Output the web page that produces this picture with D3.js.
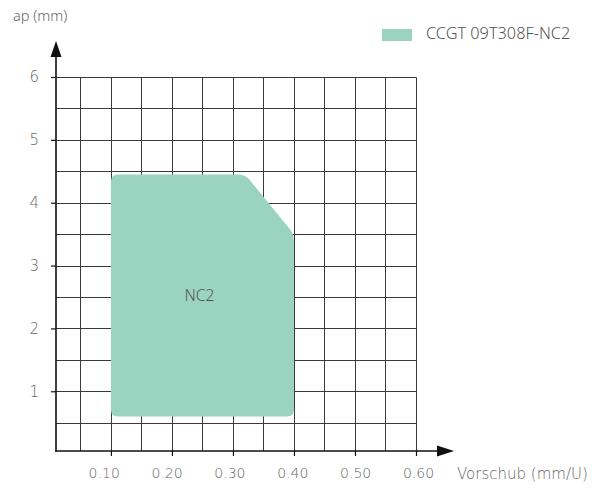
<!DOCTYPE html>
<html>
<head>
<meta charset="utf-8">
<script src="https://cdn.jsdelivr.net/npm/d3@7"></script>
<style>
  html, body { margin: 0; padding: 0; background: #fff; }
  svg { display: block; }
</style>
</head>
<body>
<svg id="chart" width="605" height="488"></svg>
<script>
// ---- data ----
const seriesName = "CCGT 09T308F-NC2";
const areaLabel = "NC2";
const areaFeed = [0.10, 0.10, 0.32, 0.40, 0.40];   // Vorschub (mm/U)
const areaDepth = [0.60, 4.45, 4.45, 3.50, 0.60];  // ap (mm)
const labelPos = [0.245, 2.5];
const xTicks = [0.10, 0.20, 0.30, 0.40, 0.50, 0.60];
const yTicks = [1, 2, 3, 4, 5, 6];
const xGrid = [0.05, 0.10, 0.15, 0.20, 0.25, 0.30, 0.35, 0.40, 0.45, 0.50, 0.55, 0.60];
const yGrid = [0.5, 1, 1.5, 2, 2.5, 3, 3.5, 4, 4.5, 5, 5.5, 6];
const xTitle = "Vorschub (mm/U)";
const yTitle = "ap (mm)";

const fillColor = "#9ad4c0";
const gridColor = "#3a3a3a";
const axisColor = "#111";
const textColor = "#666";

const svg = d3.select("#chart");
const x = d3.scaleLinear().domain([0.01, 0.6]).range([56, 416]);
const y = d3.scaleLinear().domain([0.05, 6]).range([451, 77]);
// tick labels in the reference sit on a slightly wider spacing than the grid
const xLabel = d3.scaleLinear().domain([0.1, 0.6]).range([103.7, 418]);

// grid
const grid = svg.append("g");
grid.selectAll("line.v").data(xGrid).join("line")
  .attr("x1", d => Math.round(x(d)) + 0.5).attr("x2", d => Math.round(x(d)) + 0.5)
  .attr("y1", y(0.05)).attr("y2", Math.round(y(6)) + 0.5)
  .attr("stroke", gridColor).attr("stroke-width", 1);
grid.selectAll("line.h").data(yGrid).join("line")
  .attr("y1", d => Math.round(y(d)) + 0.5).attr("y2", d => Math.round(y(d)) + 0.5)
  .attr("x1", x(0.01)).attr("x2", Math.round(x(0.6)) + 0.5)
  .attr("stroke", gridColor).attr("stroke-width", 1);

// rounded polygon
function roundedPath(pts, r) {
  const n = pts.length;
  let d = "";
  for (let i = 0; i < n; i++) {
    const p0 = pts[(i - 1 + n) % n], p1 = pts[i], p2 = pts[(i + 1) % n];
    const v1 = [p0[0] - p1[0], p0[1] - p1[1]], v2 = [p2[0] - p1[0], p2[1] - p1[1]];
    const l1 = Math.hypot(...v1), l2 = Math.hypot(...v2);
    const rr = Math.min(r, l1 / 2, l2 / 2);
    const a = [p1[0] + v1[0] / l1 * rr, p1[1] + v1[1] / l1 * rr];
    const b = [p1[0] + v2[0] / l2 * rr, p1[1] + v2[1] / l2 * rr];
    d += (i === 0 ? "M" : "L") + a[0] + "," + a[1] + "Q" + p1[0] + "," + p1[1] + " " + b[0] + "," + b[1];
  }
  return d + "Z";
}
const pts = areaFeed.map((f, i) => [x(f), y(areaDepth[i])]);
svg.append("path").attr("d", roundedPath(pts, 7)).attr("fill", fillColor);

svg.append("text")
  .attr("x", x(labelPos[0])).attr("y", y(labelPos[1]))
  .attr("text-anchor", "middle").attr("dominant-baseline", "middle")
  .attr("font-family", "'Noto Sans', sans-serif").attr("font-weight", 300)
  .attr("font-size", 15.5).attr("fill", "#555").text(areaLabel);

// axes
const xAxis = svg.append("g").attr("transform", `translate(0,${y(0.05)})`)
  .call(d3.axisBottom(x).tickValues(xTicks).tickSize(5).tickPadding(12).tickFormat(d3.format(".2f")));
const yAxis = svg.append("g").attr("transform", `translate(${x(0.01)},0)`)
  .call(d3.axisLeft(y).tickValues(yTicks).tickSize(5).tickPadding(12).tickFormat(d3.format("d")));
[xAxis, yAxis].forEach(g => {
  g.select(".domain").remove();
  g.selectAll(".tick line").attr("stroke", axisColor).attr("stroke-width", 1.2);
  g.selectAll(".tick text").attr("fill", textColor)
    .style("font-family", "'DejaVu Sans', sans-serif").style("font-weight", 200).style("font-size", "14px");
});
xAxis.selectAll(".tick text").attr("x", d => xLabel(d) - x(d));
yAxis.selectAll(".tick text").style("font-size", "15px");

// axis lines + arrows
const ox = x(0.01), oy = y(0.05);
svg.append("line").attr("x1", ox).attr("x2", ox).attr("y1", oy + 0.8).attr("y2", 56)
  .attr("stroke", axisColor).attr("stroke-width", 1.6);
svg.append("line").attr("x1", ox - 0.8).attr("x2", 438).attr("y1", oy).attr("y2", oy)
  .attr("stroke", axisColor).attr("stroke-width", 1.6);
svg.append("path").attr("d", `M${ox},41L${ox + 5.5},57L${ox - 5.5},57Z`).attr("fill", axisColor);
svg.append("path").attr("d", `M454,${oy}L437,${oy - 5.5}L437,${oy + 5.5}Z`).attr("fill", axisColor);

// titles
svg.append("text").attr("x", 13).attr("y", 21)
  .style("font-family", "'Noto Sans', sans-serif").style("font-weight", 300)
  .style("font-size", "14.5px").attr("fill", textColor).text(yTitle);
svg.append("text").attr("x", 457).attr("y", oy + 28)
  .style("font-family", "'DejaVu Sans', sans-serif").style("font-weight", 200)
  .style("font-size", "15px").attr("fill", textColor).text(xTitle);

// legend
svg.append("rect").attr("x", 382).attr("y", 29).attr("width", 30).attr("height", 12).attr("fill", fillColor);
svg.append("text").attr("x", 426).attr("y", 35).attr("dominant-baseline", "middle")
  .style("font-family", "'Noto Sans', sans-serif").style("font-weight", 300)
  .style("font-size", "16.3px").attr("fill", "#555").text(seriesName);
</script>
</body>
</html>
